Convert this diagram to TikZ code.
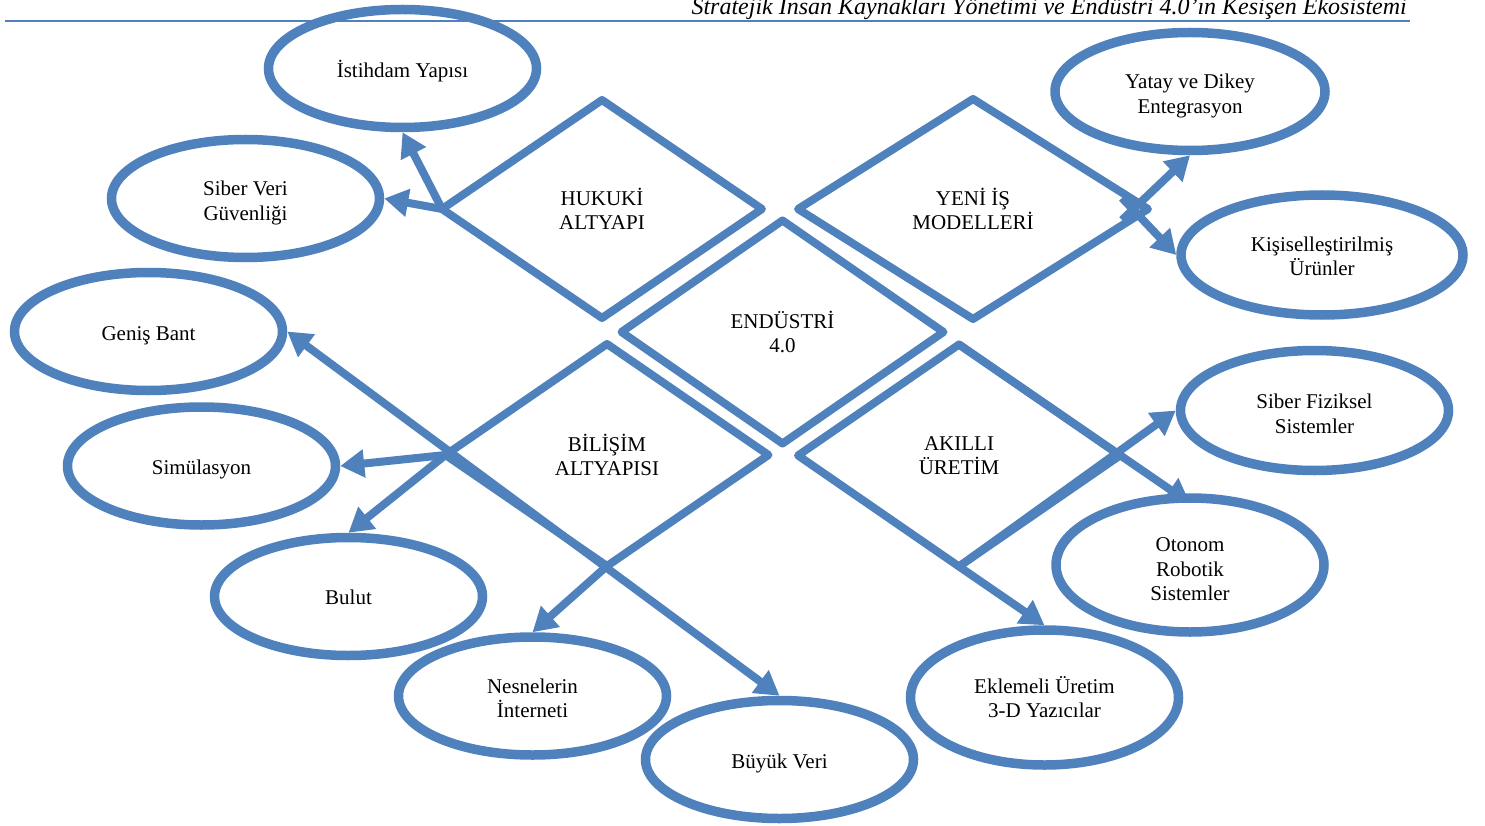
\documentclass[tikz,border=0pt]{standalone}
\usepackage{fontspec}
\setmainfont{Liberation Serif}
\usetikzlibrary{shapes.geometric,arrows.meta}
\definecolor{sa}{RGB}{79,129,189}
\begin{document}
\begin{tikzpicture}[x=1pt,y=-1pt,
  >={Triangle[length=24pt,width=27pt]},
  ell/.style={ellipse,draw=sa,line width=9.5pt,inner sep=0pt,align=center,
    font=\fontsize{21}{24.6}\selectfont,minimum width=268pt,minimum height=118pt,
    text height=22pt},
  dia/.style={diamond,draw=sa,line width=8pt,inner sep=0pt,outer sep=0pt,align=center,
    font=\fontsize{21}{24.6}\selectfont,line join=round},
  arr/.style={draw=sa,line width=8pt,->},
]
\useasboundingbox (0,0) rectangle (1485,826);
% header
\node[anchor=base east,inner sep=0pt,font=\fontsize{24}{28}\selectfont\itshape] (hdr) at (1407,15)
  {Stratejik İnsan Kaynakları Yönetimi ve Endüstri 4.0’ın Kesişen Ekosistemi};
\coordinate (rl) at (5,21);
\coordinate (rr) at (1410,21);
\draw[sa,line width=2pt] (rl) -- (rr);
% ellipses
\node[ell] (ist) at (402.5,68.5) {İstihdam Yapısı};
\node[ell,text height=48pt] (sv) at (245.5,198.5) {Siber Veri\\Güvenliği};
\node[ell] (gb) at (148.5,331.5) {Geniş Bant};
\node[ell] (sim) at (201.5,466) {Simülasyon};
\node[ell,text height=16pt] (bul) at (348.5,596.5) {Bulut};
\node[ell,text height=44pt] (nes) at (532.5,696) {Nesnelerin\\İnterneti};
\node[ell] (bv) at (779.5,759.5) {Büyük Veri};
\node[ell,text height=41pt,minimum height=135pt] (ek) at (1044.5,697.5) {Eklemeli Üretim\\3-D Yazıcılar};
\node[ell,text height=71.5pt,minimum height=134pt] (ot) at (1190,565) {Otonom\\Robotik\\Sistemler};
\node[ell,text height=46pt,minimum height=120pt] (sf) at (1314.5,410.5) {Siber Fiziksel\\Sistemler};
\node[ell,text height=42pt,minimum width=282pt,minimum height=120pt] (ks) at (1322,255) {Kişiselleştirilmiş\\Ürünler};
\node[ell,text height=48pt,minimum width=270pt] (yt) at (1190,91.5) {Yatay ve Dikey\\Entegrasyon};
% diamonds
\node[dia,minimum width=320pt,minimum height=218pt] (hk) at (602,209) {HUKUKİ\\ALTYAPI};
\node[dia,minimum width=350pt,minimum height=220pt] (yi) at (973,209) {YENİ İŞ\\MODELLERİ};
\node[dia,minimum width=322pt,minimum height=223pt] (en) at (782.5,332) {ENDÜSTRİ\\4.0};
\node[dia,minimum width=323pt,minimum height=222pt] (bl) at (607,455) {BİLİŞİM\\ALTYAPISI};
\node[dia,minimum width=322pt,minimum height=222pt] (ak) at (959,455.5) {AKILLI\\ÜRETİM};
% connectors
\draw[arr] (hk.west) -- (ist.south);
\draw[arr] (hk.west) -- (sv.east);
\coordinate (y1) at ([xshift=-26pt,yshift=11pt]yi.east);
\coordinate (y2) at ([xshift=-26pt,yshift=-11pt]yi.east);
\draw[arr] (y1) -- (ks.west);
\draw[arr] (y2) -- (yt.south);
\draw[arr] (bl.west) -- (sim.east);
\draw[arr] (bl.west) -- (bul.north);
\draw[arr,<->] (gb.east) -- (bv.north);
\draw[arr] (bl.south) -- (nes.north);
\draw[arr] (ak.north) -- ([yshift=-10pt]ot.north);
\draw[arr] (ak.south) -- (sf.west);
\draw[arr] (ak.south) -- (ek.north);
\end{tikzpicture}
\end{document}
